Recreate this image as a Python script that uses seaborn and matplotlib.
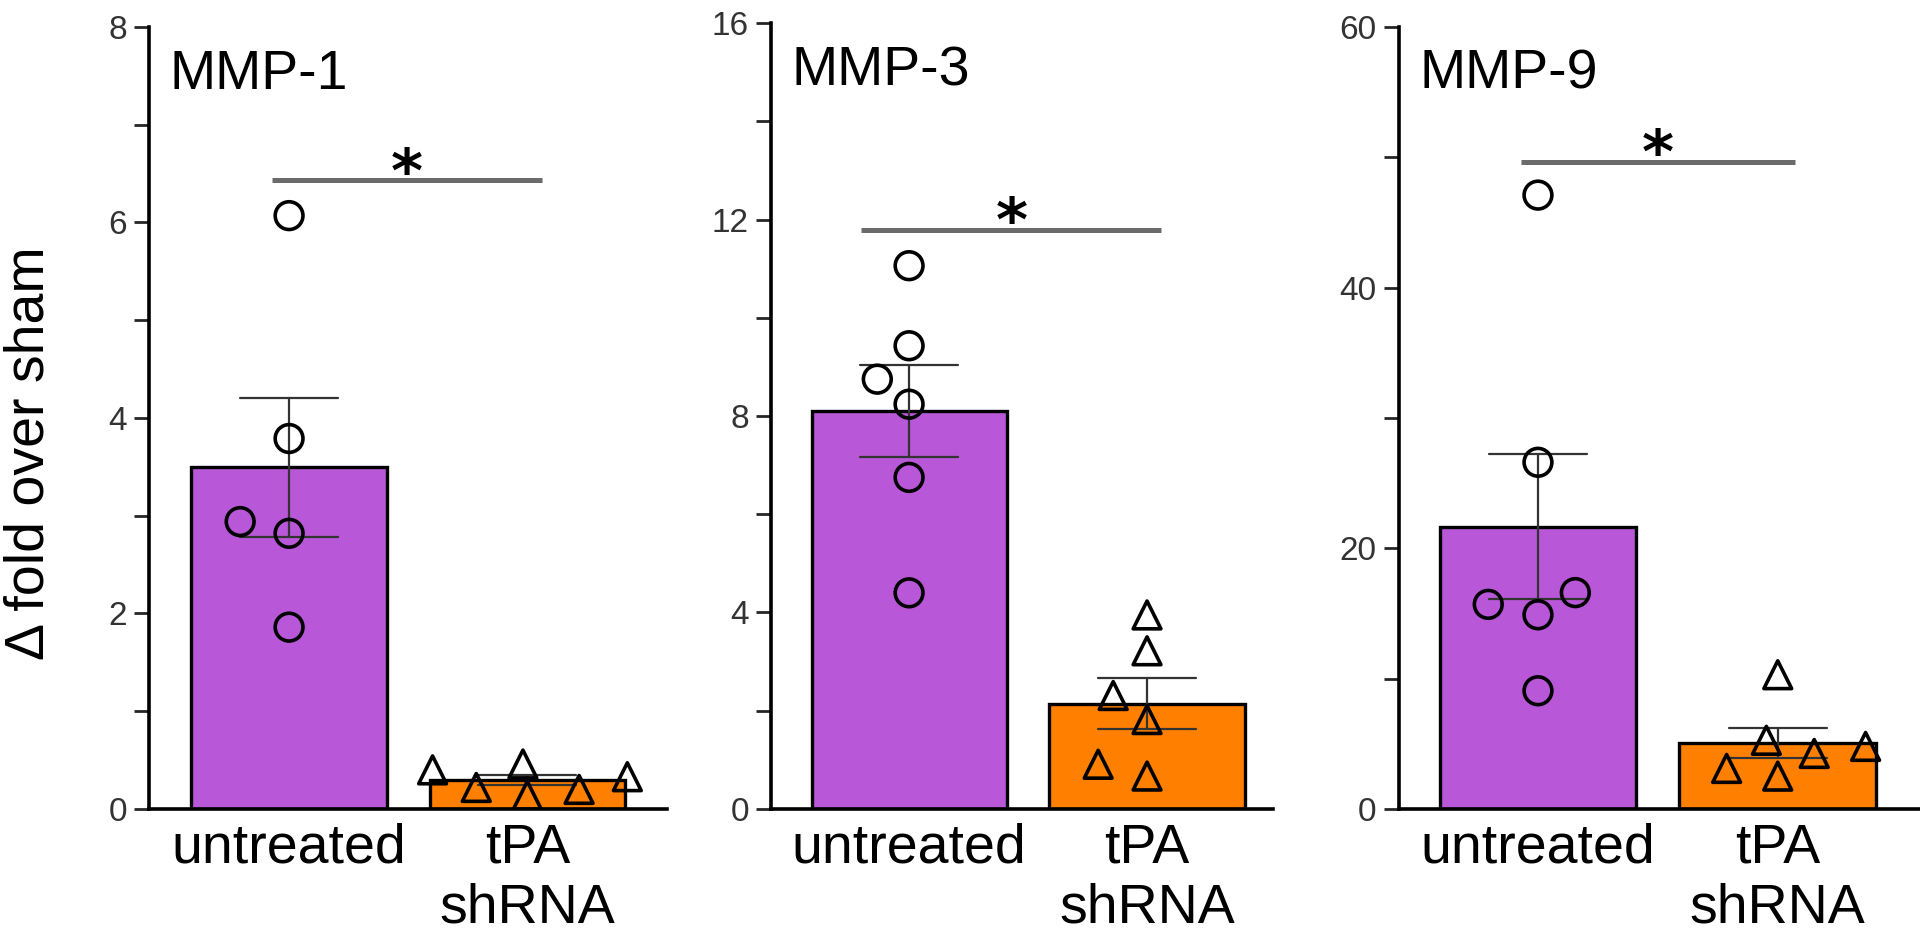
import numpy as np
import pandas as pd
import matplotlib
matplotlib.use("Agg")
import matplotlib.pyplot as plt
from matplotlib.ticker import MultipleLocator
import seaborn as sns

sns.set_style("ticks")
plt.rcParams['font.family'] = ['Liberation Sans', 'DejaVu Sans']

# data
groups = ["untreated", "tPA\nshRNA"]
titles = ["MMP-1", "MMP-3", "MMP-9"]

mmp1_untreated = [6.07, 3.79, 2.94, 2.82, 1.86]
mmp1_shrna = [0.20, 0.40, 0.22, 0.33, 0.46, 0.14]
mmp3_untreated = [11.06, 9.43, 8.75, 8.24, 6.75, 4.40]
mmp3_shrna = [3.95, 3.22, 2.31, 1.82, 0.91, 0.67]
mmp9_untreated = [47.1, 26.6, 16.6, 15.7, 14.9, 9.07]
mmp9_shrna = [10.3, 4.8, 5.27, 4.26, 3.11, 2.52]

y_max = [8, 16, 60]
y_major = [2, 4, 20]
y_minor = [1, 2, 10]
sig_y = [6.43, 11.79, 49.65]
sig_x = [(-0.07, 1.06), (-0.2, 1.06), (-0.07, 1.07)]

panels = [(mmp1_untreated, mmp1_shrna), (mmp3_untreated, mmp3_shrna), (mmp9_untreated, mmp9_shrna)]
colors = ["#B857D7", "#FF8000"]
markers = ["o", "^"]

# layout (figure fractions) and x limits per panel
rects = [[0.0776, 0.1394, 0.2700, 0.8319],
         [0.4016, 0.1394, 0.2615, 0.8361],
         [0.7286, 0.1394, 0.2710, 0.8319]]
xlims = [(-0.588, 1.588), (-0.58, 1.53), (-0.58, 1.59)]
spread = 1.6  # prism-style scatter is wider than a tight swarm

fig = plt.figure(figsize=(19.2, 9.4), dpi=100)
swarm_colls = []

for i, (unt, sh) in enumerate(panels):
    ax = fig.add_axes(rects[i])
    df = pd.DataFrame({"group": [groups[0]] * len(unt) + [groups[1]] * len(sh),
                       "value": unt + sh})
    sns.barplot(data=df, x="group", y="value", order=groups, hue="group",
                hue_order=groups, palette=colors, saturation=1, legend=False,
                errorbar="se", capsize=0.41, width=0.82, edgecolor="black",
                linewidth=2.4, err_kws={"color": "#333333", "linewidth": 1.6}, ax=ax)
    for g, m in zip(groups, markers):
        n_before = len(ax.collections)
        sns.swarmplot(data=df[df["group"] == g], x="group", y="value", order=groups,
                      marker=m, size=20, linewidth=2.6, color="black",
                      edgecolor="black", ax=ax)
        for coll in ax.collections[n_before:]:
            coll.set_facecolor("none")
            coll.set_edgecolor("black")
            coll.set_linewidth(2.6)
            coll.set_zorder(3)
            swarm_colls.append(coll)

    ax.set_xlim(xlims[i])
    ax.set_ylim(0, y_max[i])
    ax.set_yticks(np.arange(0, y_max[i] + 1, y_major[i]))
    ax.yaxis.set_minor_locator(MultipleLocator(y_minor[i]))
    ax.tick_params(axis="y", which="both", length=11, width=2, labelsize=24,
                   labelcolor="#333333", pad=5)
    ax.tick_params(axis="x", length=0, labelsize=40, labelcolor="black", pad=10)
    sns.despine(ax=ax)
    for s in ["left", "bottom"]:
        ax.spines[s].set_linewidth(2.6)
        ax.spines[s].set_color("black")
    ax.set_xlabel("")
    ax.set_ylabel("")

    ax.text(0.04, 0.972, titles[i], transform=ax.transAxes, ha="left", va="top",
            fontsize=40, color="black")

    # significance bar
    ax.plot(sig_x[i], [sig_y[i], sig_y[i]], color="#6b6b6b", lw=3.6,
            solid_capstyle="butt", clip_on=False)
    ax.annotate("*", xy=(np.mean(sig_x[i]), sig_y[i]), xytext=(0, -8),
                textcoords="offset points", ha="center", va="baseline",
                fontsize=44, fontweight="bold", family="DejaVu Sans", color="black")

    if i == 0:
        ax.set_ylabel("Δ fold over sham", fontsize=40, color="black",
                      family=["Liberation Sans Narrow", "Liberation Sans", "DejaVu Sans"])
        ax.yaxis.set_label_coords(-0.18, 0.455)

# run the swarm layout once, then widen it around each category centre
fig.canvas.draw()
for coll in swarm_colls:
    offs = np.array(coll.get_offsets(), dtype=float)
    if len(offs) == 0:
        continue
    c = np.round(offs[:, 0])
    offs[:, 0] = c + (offs[:, 0] - c) * spread
    coll.set_offsets(offs)
    coll.__dict__.pop("draw", None)

fig.savefig("out.png", dpi=100)
